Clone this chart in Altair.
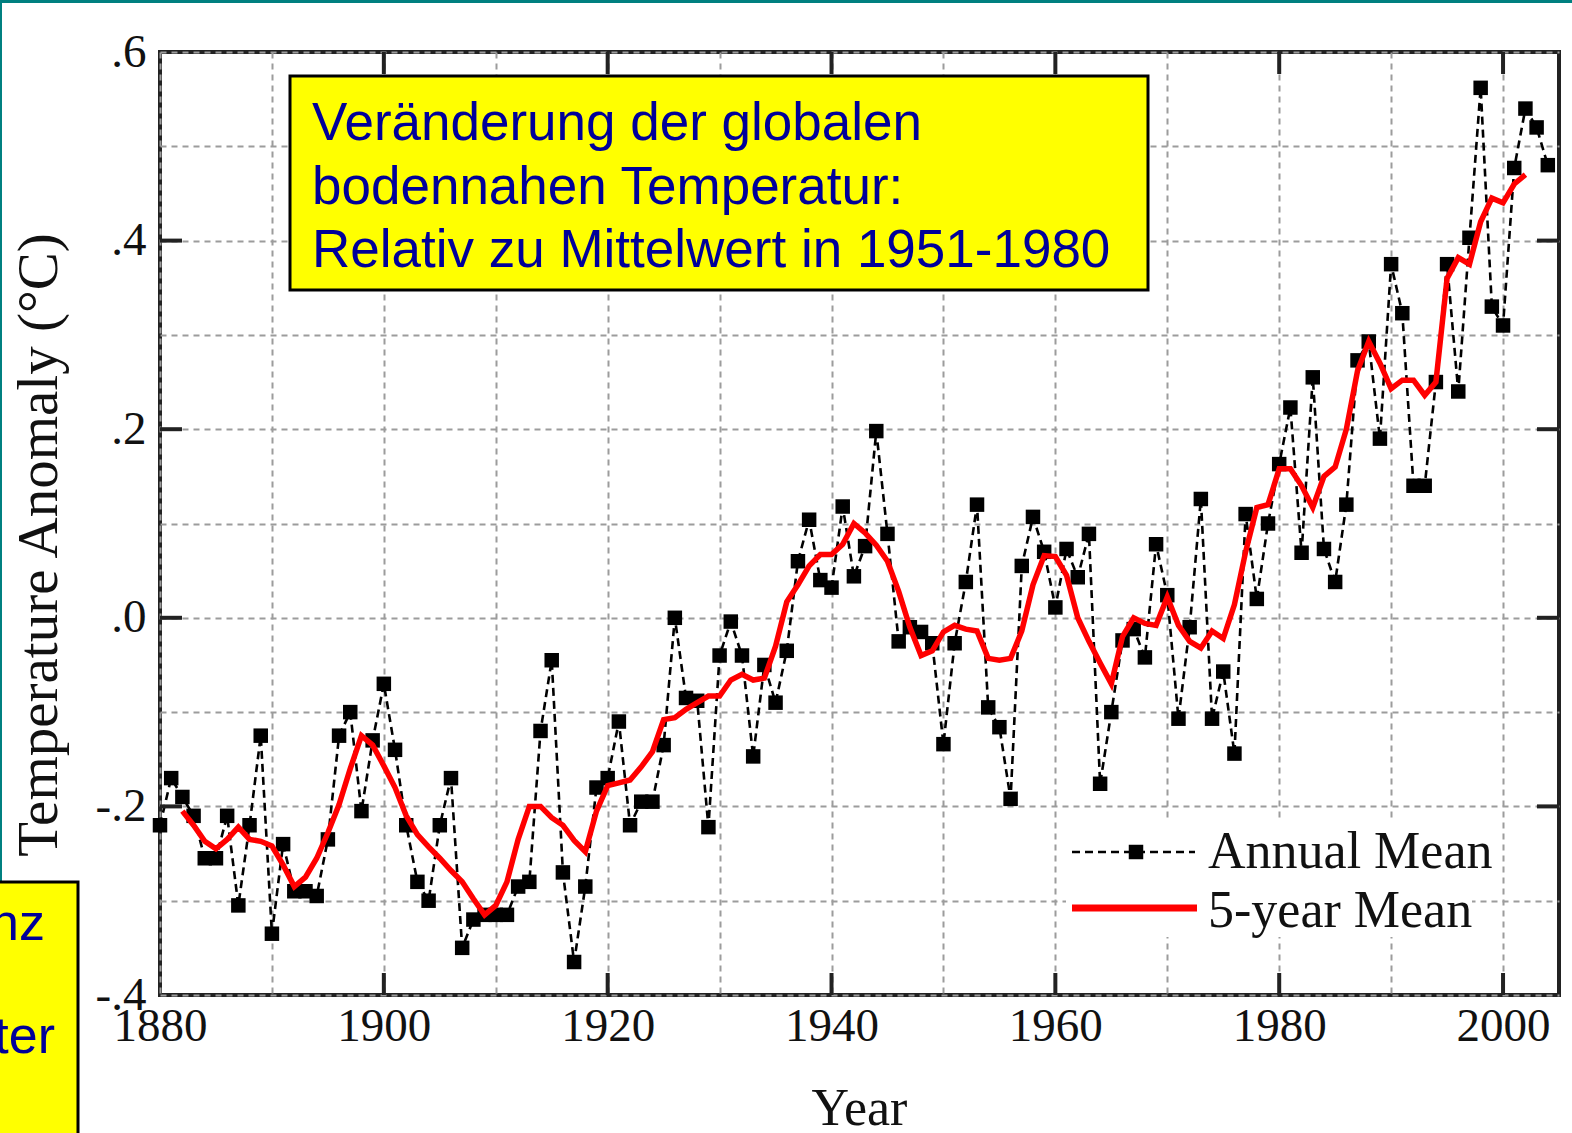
import altair as alt
import pandas as pd

# ---------------------------------------------------------------- data
years = list(range(1880, 2005))
annual_mean = [
    -0.22, -0.17, -0.19, -0.21, -0.255, -0.255, -0.21, -0.305, -0.22, -0.125,   # 1880s
    -0.335, -0.24, -0.29, -0.29, -0.295, -0.235, -0.125, -0.10, -0.205, -0.13,  # 1890s
    -0.07, -0.14, -0.22, -0.28, -0.30, -0.22, -0.17, -0.35, -0.32, -0.315,      # 1900s
    -0.315, -0.315, -0.285, -0.28, -0.12, -0.045, -0.27, -0.365, -0.285, -0.18, # 1910s
    -0.17, -0.11, -0.22, -0.195, -0.195, -0.135, 0.0, -0.085, -0.088, -0.222,   # 1920s
    -0.04, -0.004, -0.04, -0.147, -0.05, -0.09, -0.035, 0.06, 0.104, 0.04,      # 1930s
    0.032, 0.118, 0.044, 0.076, 0.198, 0.089, -0.025, -0.01, -0.015, -0.027,    # 1940s
    -0.134, -0.027, 0.038, 0.12, -0.095, -0.116, -0.192, 0.055, 0.107, 0.07,    # 1950s
    0.011, 0.073, 0.043, 0.089, -0.176, -0.10, -0.024, -0.012, -0.042, 0.078,   # 1960s
    0.024, -0.107, -0.01, 0.126, -0.107, -0.057, -0.144, 0.11, 0.02, 0.10,      # 1970s
    0.163, 0.223, 0.069, 0.255, 0.073, 0.038, 0.12, 0.273, 0.293, 0.19,        # 1980s
    0.375, 0.323, 0.14, 0.14, 0.25, 0.375, 0.24, 0.403, 0.562, 0.33,           # 1990s
    0.31, 0.477, 0.54, 0.52, 0.48,                                             # 2000s
]

five_year_years = list(range(1882, 2003))
five_year_mean = [
    -0.205, -0.22, -0.237, -0.245, -0.235, -0.222, -0.235, -0.237, -0.242, -0.262,  # 1882-1891
    -0.285, -0.275, -0.255, -0.228, -0.198, -0.16, -0.125, -0.135, -0.157, -0.18,   # 1892-1901
    -0.21, -0.23, -0.243, -0.255, -0.268, -0.28, -0.298, -0.315, -0.305, -0.28,     # 1902-1911
    -0.235, -0.20, -0.20, -0.212, -0.22, -0.236, -0.248, -0.205, -0.178, -0.175,    # 1912-1921
    -0.172, -0.158, -0.142, -0.108, -0.106, -0.097, -0.09, -0.083, -0.083, -0.066,  # 1922-1931
    -0.06, -0.066, -0.064, -0.03, 0.017, 0.035, 0.055, 0.067, 0.067, 0.078,         # 1932-1941
    0.10, 0.09, 0.077, 0.06, 0.028, -0.01, -0.04, -0.035, -0.015, -0.008,           # 1942-1951
    -0.012, -0.014, -0.043, -0.045, -0.043, -0.014, 0.035, 0.066, 0.065, 0.045,     # 1952-1961
    0.0, -0.025, -0.048, -0.07, -0.02, 0.0, -0.006, -0.008, 0.022, -0.008,          # 1962-1971
    -0.025, -0.032, -0.014, -0.022, 0.014, 0.07, 0.117, 0.12, 0.158, 0.158,         # 1972-1981
    0.14, 0.117, 0.15, 0.16, 0.2, 0.262, 0.293, 0.27, 0.243, 0.252,                 # 1982-1991
    0.252, 0.236, 0.25, 0.36, 0.382, 0.375, 0.42, 0.445, 0.44, 0.46,                # 1992-2001
    0.47,                                                                           # 2002
]

grid_years = list(range(1880, 2001, 10))
grid_values = [-0.4, -0.3, -0.2, -0.1, 0.0, 0.1, 0.2, 0.3, 0.4, 0.5, 0.6]
tick_years = [1900, 1920, 1940, 1960, 1980, 2000]
tick_values = [-0.2, 0.0, 0.2, 0.4]

title_lines = [
    "Veränderung der globalen",
    "bodennahen Temperatur:",
    "Relativ zu Mittelwert in 1951-1980",
]
legend_labels = ["Annual Mean", "5-year Mean"]
side_fragments = ["nz", "ter"]

annual_df = pd.DataFrame({"year": years, "anomaly": annual_mean})
five_df = pd.DataFrame({"year": five_year_years, "anomaly": five_year_mean})
one = pd.DataFrame({"k": [0]})

# ---------------------------------------------------------------- layout
W, H = 1399, 943
SERIF = "Liberation Serif"
SANS = "Liberation Sans"
BLUE = "#000099"
INK = "#111"

xscale = alt.Scale(domain=[1880, 2005], nice=False, zero=False)
yscale = alt.Scale(domain=[-0.4, 0.6], nice=False, zero=False)

x_axis = alt.Axis(
    values=grid_years, grid=True, gridColor="#9c9c9c", gridDash=[6, 5], gridWidth=2,
    ticks=False, domain=False, title="",
    labelExpr="datum.value % 20 == 0 ? '' + datum.value : ''",
    labelFont=SERIF, labelFontSize=47, labelColor=INK, labelPadding=8,
    labelFlush=False, labelOverlap=False,
)
y_axis = alt.Axis(
    values=grid_values, grid=True, gridColor="#9c9c9c", gridDash=[6, 5], gridWidth=2,
    ticks=False, domain=False, title="",
    labelExpr="round(datum.value*10) % 2 == 0 ? (datum.value < -0.01 ? '-' : '') + '.' + abs(round(datum.value*10)) : ''",
    labelFont=SERIF, labelFontSize=47, labelColor=INK, labelPadding=14,
    labelOverlap=False,
)

X = alt.X("year:Q", scale=xscale, axis=x_axis)
Y = alt.Y("anomaly:Q", scale=yscale, axis=y_axis)

layers = []

# annual means: dashed black line with square markers
layers.append(alt.Chart(annual_df).mark_line(color="black", strokeWidth=2.6, strokeDash=[8, 5]).encode(x=X, y=Y))
layers.append(alt.Chart(annual_df).mark_square(color="black", size=210, opacity=1).encode(x=X, y=Y))
# five-year running mean
layers.append(alt.Chart(five_df).mark_line(color="#ff0000", strokeWidth=5.5).encode(x=X, y=Y))

# inward major ticks on all four sides
tx = pd.DataFrame({"year": tick_years})
ty = pd.DataFrame({"anomaly": tick_values})
tick_style = dict(color="#222", strokeWidth=4)
layers.append(alt.Chart(tx).mark_rule(**tick_style).encode(x=X, y=alt.value(H), y2=alt.value(H - 22)))
layers.append(alt.Chart(tx).mark_rule(**tick_style).encode(x=X, y=alt.value(0), y2=alt.value(22)))
layers.append(alt.Chart(ty).mark_rule(**tick_style).encode(y=Y, x=alt.value(0), x2=alt.value(22)))
layers.append(alt.Chart(ty).mark_rule(**tick_style).encode(y=Y, x=alt.value(W), x2=alt.value(W - 22)))

# title box
layers.append(alt.Chart(one).mark_rect(fill="#ffff00", stroke="black", strokeWidth=3).encode(
    x=alt.value(130), x2=alt.value(988), y=alt.value(24), y2=alt.value(238)))
for i, line in enumerate(title_lines):
    layers.append(alt.Chart(one).mark_text(
        text=line, font=SANS, fontSize=53, color=BLUE, align="left", baseline="alphabetic"
    ).encode(x=alt.value(152), y=alt.value(88 + i * 63.5)))

# legend
layers.append(alt.Chart(one).mark_rect(fill="white").encode(
    x=alt.value(906), x2=alt.value(1312), y=alt.value(768), y2=alt.value(885)))
layers.append(alt.Chart(one).mark_rule(color="black", strokeWidth=2.6, strokeDash=[8, 5]).encode(
    x=alt.value(912), x2=alt.value(1035), y=alt.value(800)))
layers.append(alt.Chart(one).mark_square(color="black", size=210, opacity=1).encode(
    x=alt.value(976), y=alt.value(800)))
layers.append(alt.Chart(one).mark_rule(color="#ff0000", strokeWidth=7).encode(
    x=alt.value(912), x2=alt.value(1037), y=alt.value(856)))
for i, lab in enumerate(legend_labels):
    layers.append(alt.Chart(one).mark_text(
        text=lab, font=SERIF, fontSize=52, color=INK, align="left", baseline="alphabetic"
    ).encode(x=alt.value(1048), y=alt.value(816 + i * 59)))

# axis titles
layers.append(alt.Chart(one).mark_text(
    text="Year", font=SERIF, fontSize=52, color=INK, align="center", baseline="alphabetic"
).encode(x=alt.value(W / 2), y=alt.value(1073)))
layers.append(alt.Chart(one).mark_text(
    text="Temperature Anomaly (°C)", font=SERIF, fontSize=57, color=INK,
    align="center", baseline="middle", angle=270
).encode(x=alt.value(-120), y=alt.value(493)))

# slide decorations: teal edge and neighbouring yellow box
layers.append(alt.Chart(one).mark_rect(fill="#008080").encode(
    x=alt.value(-160), x2=alt.value(1412), y=alt.value(-52), y2=alt.value(-49)))
layers.append(alt.Chart(one).mark_rect(fill="#008080").encode(
    x=alt.value(-160), x2=alt.value(-158), y=alt.value(-52), y2=alt.value(1081)))
layers.append(alt.Chart(one).mark_rect(fill="#ffff00", stroke="black", strokeWidth=3).encode(
    x=alt.value(-175), x2=alt.value(-82), y=alt.value(830), y2=alt.value(1095)))
for i, frag in enumerate(side_fragments):
    layers.append(alt.Chart(one).mark_text(
        text=frag, font=SANS, fontSize=52, color=BLUE, align="right", baseline="alphabetic"
    ).encode(x=alt.value(-115 + i * 10), y=alt.value(888 + i * 113)))

chart = alt.layer(*layers).properties(
    width=W, height=H,
    autosize=alt.AutoSizeParams(type="none"),
    padding={"left": 160, "top": 52, "right": 13, "bottom": 138},
    background="white",
).configure_view(stroke="#222", strokeWidth=4)

chart.save("out.html", embed_options={"renderer": "svg", "actions": False})
